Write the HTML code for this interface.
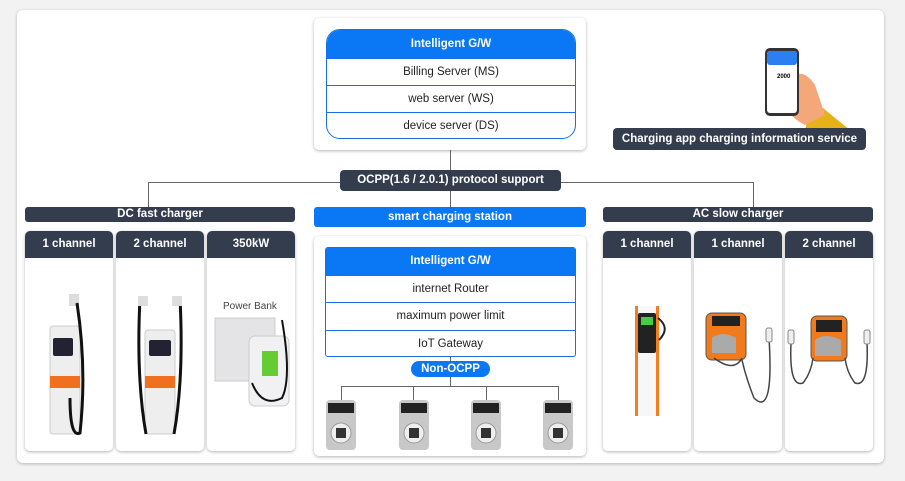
<!DOCTYPE html>
<html><head><meta charset="utf-8"><style>
*{box-sizing:border-box;margin:0;padding:0}
body{width:905px;height:481px;background:#f2f2f2;font-family:"Liberation Sans",sans-serif;position:relative;overflow:hidden}
.a{position:absolute}
.panel{left:17px;top:10px;width:867px;height:453px;background:#fff;border-radius:6px;box-shadow:0 1px 3px rgba(0,0,0,.25)}
.card{background:#fff;border-radius:5px;box-shadow:0 1px 3px rgba(0,0,0,.3)}
.dark{background:#343d4e;color:#fff;font-weight:bold;font-size:11.5px;text-align:center;border-radius:4px}
.blue{background:#0a78f5;color:#fff;font-weight:bold;font-size:11.5px;text-align:center}
.row{border-top:1px solid #1a6fe8;font-size:11.5px;color:#222;text-align:center}
.line{background:#666}
.ch{border-radius:5px;background:#fff;box-shadow:0 1px 3px rgba(0,0,0,.3);overflow:hidden}
.ch .h{height:27px;line-height:27px;background:#343d4e;color:#fff;font-weight:bold;font-size:11.5px;text-align:center}
</style></head><body>
<div class="a panel"></div>

<div class="a card" style="left:314px;top:18px;width:272px;height:132px"></div>
<div class="a" style="left:326px;top:29px;width:250px;height:110px;border:1px solid #1a6fe8;border-radius:14px;overflow:hidden">
 <div class="blue" style="height:28px;line-height:28px">Intelligent G/W</div>
 <div class="row" style="height:27px;line-height:26px">Billing Server (MS)</div>
 <div class="row" style="height:27px;line-height:26px">web server (WS)</div>
 <div class="row" style="height:27px;line-height:26px">device server (DS)</div>
</div>

<div class="a line" style="left:450px;top:150px;width:1px;height:58px"></div>
<div class="a line" style="left:148px;top:182px;width:606px;height:1px"></div>
<div class="a line" style="left:148px;top:182px;width:1px;height:25px"></div>
<div class="a line" style="left:753px;top:182px;width:1px;height:25px"></div>
<div class="a dark" style="left:340px;top:170px;width:221px;height:21px;line-height:21px">OCPP(1.6 / 2.0.1) protocol support</div>

<div class="a dark" style="left:25px;top:207px;width:270px;height:15px;line-height:14px;border-radius:3px">DC fast charger</div>
<div class="a blue" style="left:314px;top:207px;width:272px;height:20px;line-height:20px;border-radius:3px">smart charging station</div>
<div class="a dark" style="left:603px;top:207px;width:270px;height:15px;line-height:14px;border-radius:3px">AC slow charger</div>

<svg class="a" style="left:755px;top:45px" width="95" height="85" viewBox="0 0 95 85">
 <path d="M58 55 L95 85 L50 85 Z" fill="#e6b21a"/>
 <path d="M28 30 Q22 35 26 50 Q30 70 50 80 L70 70 L60 40 Q50 25 40 30 Z" fill="#f4a87a"/>
 <rect x="10" y="3" width="34" height="68" rx="5" fill="#333"/>
 <rect x="12" y="6" width="30" height="62" rx="3" fill="#fff"/>
 <rect x="12" y="6" width="30" height="14" rx="3" fill="#2b7ff0"/>
 <text x="22" y="33" font-size="6" font-weight="bold" font-family="Liberation Sans">2000</text>
</svg>
<div class="a dark" style="left:613px;top:128px;width:253px;height:22px;line-height:22px">Charging app charging information service</div>

<div class="a ch" style="left:25px;top:231px;width:88px;height:220px"><div class="h">1 channel</div>
 <svg width="88" height="190"><rect x="25" y="68" width="30" height="108" rx="3" fill="#eee" stroke="#ccc"/><rect x="28" y="80" width="20" height="18" rx="2" fill="#223"/><rect x="25" y="118" width="30" height="12" fill="#f07020"/><rect x="44" y="36" width="10" height="12" fill="#ddd"/><path d="M52 45 Q62 110 55 175 Q45 180 45 140" stroke="#111" stroke-width="3" fill="none"/></svg></div>
<div class="a ch" style="left:116px;top:231px;width:88px;height:220px"><div class="h">2 channel</div>
 <svg width="88" height="190"><rect x="29" y="72" width="30" height="104" rx="3" fill="#eee" stroke="#ccc"/><rect x="33" y="82" width="22" height="16" rx="2" fill="#223"/><rect x="29" y="118" width="30" height="12" fill="#f07020"/><path d="M24 40 Q20 120 30 176 M64 40 Q68 120 58 176" stroke="#111" stroke-width="3" fill="none"/><rect x="22" y="38" width="10" height="10" fill="#ddd"/><rect x="56" y="38" width="10" height="10" fill="#ddd"/></svg></div>
<div class="a ch" style="left:207px;top:231px;width:88px;height:220px"><div class="h">350kW</div>
 <div class="a" style="left:16px;top:70px;font-size:10px;color:#444">Power Bank</div>
 <svg width="88" height="190"><rect x="8" y="60" width="60" height="63" fill="#e4e4e6" stroke="#ccc"/><rect x="42" y="78" width="40" height="70" rx="6" fill="#f1f1f3" stroke="#ccc"/><rect x="55" y="93" width="16" height="25" fill="#6c3"/><path d="M75 62 Q85 120 75 140 Q55 150 45 125" stroke="#111" stroke-width="2" fill="none"/></svg></div>

<div class="a card" style="left:314px;top:236px;width:272px;height:220px"></div>
<div class="a" style="left:325px;top:247px;width:251px;height:110px;border:1px solid #1a6fe8;border-radius:3px;overflow:hidden">
 <div class="blue" style="height:27px;line-height:27px">Intelligent G/W</div>
 <div class="row" style="height:27px;line-height:26px">internet Router</div>
 <div class="row" style="height:28px;line-height:27px">maximum power limit</div>
 <div class="row" style="height:27px;line-height:26px">IoT Gateway</div>
</div>
<div class="a line" style="left:450px;top:357px;width:1px;height:30px"></div>
<div class="a blue" style="left:411px;top:361px;width:79px;height:16px;line-height:16px;border-radius:8px">Non-OCPP</div>
<div class="a line" style="left:341px;top:386px;width:218px;height:1px"></div>
<div class="a line" style="left:341px;top:386px;width:1px;height:14px"></div>
<div class="a line" style="left:413px;top:386px;width:1px;height:14px"></div>
<div class="a line" style="left:486px;top:386px;width:1px;height:14px"></div>
<div class="a line" style="left:558px;top:386px;width:1px;height:14px"></div>
<svg class="a" style="left:320px;top:398px" width="260" height="55">
 <g id="w"><rect x="6" y="2" width="30" height="50" rx="4" fill="#c8c8c8"/><rect x="8" y="5" width="26" height="10" fill="#222"/><circle cx="21" cy="35" r="10" fill="#eee" stroke="#999"/><rect x="16" y="30" width="10" height="10" fill="#333"/></g>
 <use href="#w" x="73"/><use href="#w" x="145"/><use href="#w" x="217"/>
</svg>

<div class="a ch" style="left:603px;top:231px;width:88px;height:220px"><div class="h">1 channel</div>
 <svg width="88" height="190"><rect x="32" y="48" width="24" height="110" fill="#f7f7f7"/><rect x="32" y="48" width="3" height="110" fill="#f57c1f"/><rect x="53" y="48" width="3" height="110" fill="#f57c1f"/><rect x="35" y="55" width="18" height="40" rx="2" fill="#222"/><rect x="38" y="59" width="12" height="8" fill="#4c4"/><path d="M55 60 Q68 70 56 82" stroke="#222" stroke-width="2" fill="none"/></svg></div>
<div class="a ch" style="left:694px;top:231px;width:88px;height:220px"><div class="h">1 channel</div>
 <svg width="88" height="190"><rect x="12" y="55" width="40" height="47" rx="6" fill="#f07a1c" stroke="#555"/><rect x="18" y="58" width="28" height="10" fill="#222"/><path d="M18 80 Q28 72 42 80 L42 95 L18 95 Z" fill="#aaa"/><path d="M20 100 Q40 115 48 100 M75 80 Q80 160 60 140 Q52 120 48 102" stroke="#444" stroke-width="1.5" fill="none"/><rect x="72" y="70" width="6" height="14" rx="2" fill="#eee" stroke="#888"/></svg></div>
<div class="a ch" style="left:785px;top:231px;width:88px;height:220px"><div class="h">2 channel</div>
 <svg width="88" height="190"><rect x="26" y="58" width="36" height="45" rx="6" fill="#f07a1c" stroke="#555"/><rect x="31" y="62" width="26" height="12" fill="#222"/><path d="M30 82 Q40 74 56 82 L56 98 L30 98 Z" fill="#aaa"/><path d="M6 85 Q4 130 18 125 Q26 115 28 100 M82 85 Q84 130 70 125 Q62 115 60 100" stroke="#444" stroke-width="1.5" fill="none"/><rect x="3" y="72" width="6" height="14" rx="2" fill="#eee" stroke="#888"/><rect x="79" y="72" width="6" height="14" rx="2" fill="#eee" stroke="#888"/></svg></div>
</body></html>
